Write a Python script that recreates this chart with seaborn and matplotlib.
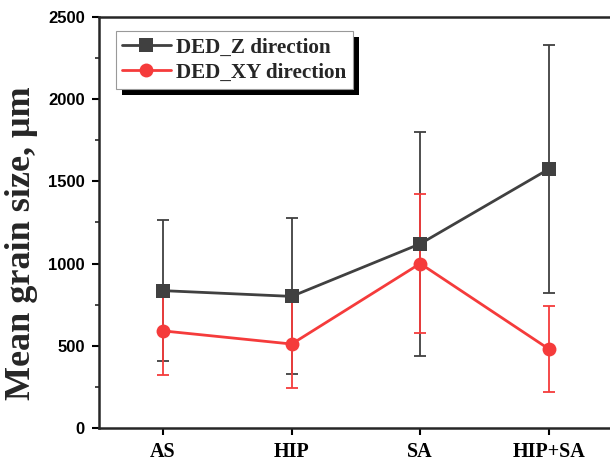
import numpy as np
import pandas as pd
import matplotlib
matplotlib.use("Agg")
import matplotlib.pyplot as plt
import matplotlib.transforms as mtransforms
import seaborn as sns

categories = ["AS", "HIP", "SA", "HIP+SA"]
z_mean = [835, 800, 1120, 1575]
z_err = [430, 475, 680, 755]
xy_mean = [590, 510, 1000, 480]
xy_err = [267, 270, 425, 260]

sns.set_style("ticks")
plt.rcParams["font.family"] = ["Liberation Serif", "DejaVu Serif"]

pos = np.arange(len(categories))
df = pd.DataFrame({
    "pos": np.concatenate([pos, pos]),
    "size": z_mean + xy_mean,
    "series": ["DED_Z direction"] * 4 + ["DED_XY direction"] * 4,
})

z_col = "#404040"
xy_col = "#f53b3b"

fig = plt.figure(figsize=(6.1, 4.63), dpi=100)
ax = fig.add_axes([0.162, 0.076, 0.843, 0.887])

ax.errorbar(pos, z_mean, yerr=z_err, fmt="none", ecolor=z_col, elinewidth=1.3, capsize=4, capthick=1.3, zorder=2)
ax.errorbar(pos, xy_mean, yerr=xy_err, fmt="none", ecolor=xy_col, elinewidth=1.3, capsize=4, capthick=1.3, zorder=3)

sns.lineplot(data=df, x="pos", y="size", hue="series", style="series",
             palette=[z_col, xy_col], markers=["s", "o"], dashes=False,
             markersize=10, linewidth=2, markeredgewidth=0, ax=ax, zorder=4)

ax.set_xlim(-0.5, 3.5)
ax.set_ylim(0, 2500)
ax.set_xticks(pos)
ax.set_xticklabels(categories, fontsize=14.5, fontweight="bold")
ax.set_yticks([0, 500, 1000, 1500, 2000, 2500])
ax.set_yticks(np.arange(250, 2500, 500), minor=True)
for lab in ax.get_yticklabels():
    lab.set_family("Liberation Sans")
    lab.set_fontweight("bold")
    lab.set_fontsize(12)
ax.tick_params(axis="both", direction="out", width=1.5, length=5, pad=5, colors="black")
ax.tick_params(axis="y", which="minor", direction="out", width=1.2, length=3)
ax.set_xlabel("")
ax.set_ylabel("Mean grain size, μm", fontsize=26, fontweight="bold")
ax.yaxis.set_label_coords(-0.118, 0.45)
for s in ax.spines.values():
    s.set_linewidth(1.8)

leg = ax.legend(loc="upper left", bbox_to_anchor=(0.033, 0.966), borderaxespad=0,
                frameon=True, fancybox=False, framealpha=1,
                prop={"family": "Liberation Serif", "weight": "bold", "size": 15.2},
                handlelength=2.3, borderpad=0.3, labelspacing=0.25, handletextpad=0.25)
leg.get_frame().set_edgecolor("#999999")
leg.get_frame().set_linewidth(0.8)
leg.set_zorder(6)

# black drop shadow behind the legend box
fig.canvas.draw()
bb = leg.get_window_extent()
shadow = plt.Rectangle((bb.x0 + 6, bb.y0 - 6), bb.width, bb.height,
                       transform=mtransforms.IdentityTransform(),
                       facecolor="black", edgecolor="none", zorder=5.5, clip_on=False)
ax.add_artist(shadow)

fig.savefig("out.png", dpi=100)
